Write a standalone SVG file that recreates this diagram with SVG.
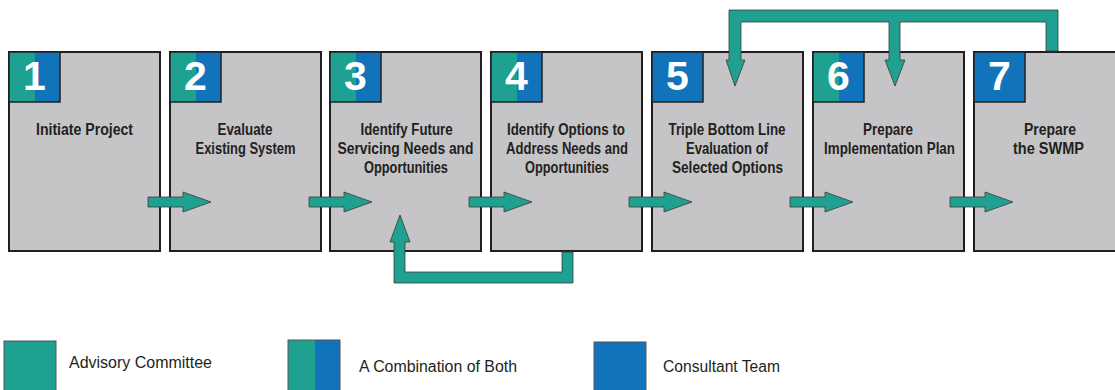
<svg xmlns="http://www.w3.org/2000/svg" width="1115" height="390" viewBox="0 0 1115 390">
  <style>
    .box { fill: #c5c4c7; stroke: #231f20; stroke-width: 2; }
    .teal { fill: #1ea190; }
    .blue { fill: #1173ba; }
    .badge-edge { fill: none; stroke: #231f20; stroke-width: 1.5; }
    .num { font-family: "Liberation Sans", Arial, sans-serif; font-weight: bold; font-size: 41px; fill: #ffffff; text-anchor: middle; }
    .label { font-family: "Liberation Sans", Arial, sans-serif; font-weight: bold; font-size: 16px; fill: #231f20; text-anchor: middle; }
    .arrow { fill: #1ea190; stroke: #3a3a3a; stroke-width: 0.8; stroke-linejoin: miter; }
    .legend-sq { stroke: #555555; stroke-width: 1; }
    .legend-txt { font-family: "Liberation Sans", Arial, sans-serif; font-size: 16px; fill: #231f20; }
  </style>

  <!-- Step 1 -->
  <g id="step1">
    <rect class="box" x="9" y="52" width="151" height="199"/>
    <rect class="teal" x="9" y="52" width="26" height="50"/>
    <rect class="blue" x="35" y="52" width="25" height="50"/>
    <rect class="badge-edge" x="9" y="52" width="51" height="50"/>
    <text class="num" x="34.5" y="90">1</text>
    <text class="label" x="84.5" y="135" textLength="97" lengthAdjust="spacingAndGlyphs">Initiate Project</text>
  </g>

  <!-- Step 2 -->
  <g id="step2">
    <rect class="box" x="170" y="52" width="151" height="199"/>
    <rect class="teal" x="170" y="52" width="26" height="50"/>
    <rect class="blue" x="196" y="52" width="25" height="50"/>
    <rect class="badge-edge" x="170" y="52" width="51" height="50"/>
    <text class="num" x="195.5" y="90">2</text>
    <text class="label" x="245" y="135" textLength="55" lengthAdjust="spacingAndGlyphs">Evaluate</text>
    <text class="label" x="245.5" y="154" textLength="100" lengthAdjust="spacingAndGlyphs">Existing System</text>
  </g>

  <!-- Step 3 -->
  <g id="step3">
    <rect class="box" x="330" y="52" width="151" height="199"/>
    <rect class="teal" x="330" y="52" width="26" height="50"/>
    <rect class="blue" x="356" y="52" width="25" height="50"/>
    <rect class="badge-edge" x="330" y="52" width="51" height="50"/>
    <text class="num" x="355.5" y="90">3</text>
    <text class="label" x="406.5" y="135" textLength="92" lengthAdjust="spacingAndGlyphs">Identify Future</text>
    <text class="label" x="405.5" y="154" textLength="136" lengthAdjust="spacingAndGlyphs">Servicing Needs and</text>
    <text class="label" x="406" y="173" textLength="84" lengthAdjust="spacingAndGlyphs">Opportunities</text>
  </g>

  <!-- Step 4 -->
  <g id="step4">
    <rect class="box" x="491" y="52" width="151" height="199"/>
    <rect class="teal" x="491" y="52" width="26" height="50"/>
    <rect class="blue" x="517" y="52" width="25" height="50"/>
    <rect class="badge-edge" x="491" y="52" width="51" height="50"/>
    <text class="num" x="516.5" y="90">4</text>
    <text class="label" x="566" y="135" textLength="118" lengthAdjust="spacingAndGlyphs">Identify Options to</text>
    <text class="label" x="567" y="154" textLength="122" lengthAdjust="spacingAndGlyphs">Address Needs and</text>
    <text class="label" x="567" y="173" textLength="84" lengthAdjust="spacingAndGlyphs">Opportunities</text>
  </g>

  <!-- Step 5 -->
  <g id="step5">
    <rect class="box" x="652" y="52" width="151" height="199"/>
    <rect class="blue" x="652" y="52" width="51" height="50"/>
    <rect class="badge-edge" x="652" y="52" width="51" height="50"/>
    <text class="num" x="677.5" y="90">5</text>
    <text class="label" x="727" y="135" textLength="117" lengthAdjust="spacingAndGlyphs">Triple Bottom Line</text>
    <text class="label" x="727" y="154" textLength="82" lengthAdjust="spacingAndGlyphs">Evaluation of</text>
    <text class="label" x="727.5" y="173" textLength="111" lengthAdjust="spacingAndGlyphs">Selected Options</text>
  </g>

  <!-- Step 6 -->
  <g id="step6">
    <rect class="box" x="813" y="52" width="151" height="199"/>
    <rect class="teal" x="813" y="52" width="26" height="50"/>
    <rect class="blue" x="839" y="52" width="25" height="50"/>
    <rect class="badge-edge" x="813" y="52" width="51" height="50"/>
    <text class="num" x="838.5" y="90">6</text>
    <text class="label" x="888" y="135" textLength="50" lengthAdjust="spacingAndGlyphs">Prepare</text>
    <text class="label" x="889.5" y="154" textLength="131" lengthAdjust="spacingAndGlyphs">Implementation Plan</text>
  </g>

  <!-- Step 7 -->
  <g id="step7">
    <rect class="box" x="974" y="52" width="151" height="199"/>
    <rect class="blue" x="974" y="52" width="51" height="50"/>
    <rect class="badge-edge" x="974" y="52" width="51" height="50"/>
    <text class="num" x="999.5" y="90">7</text>
    <text class="label" x="1050" y="135" textLength="52" lengthAdjust="spacingAndGlyphs">Prepare</text>
    <text class="label" x="1048.5" y="154" textLength="71" lengthAdjust="spacingAndGlyphs">the SWMP</text>
  </g>

  <!-- Connectors -->
  <g id="connectors">
    <!-- forward arrows between consecutive steps -->
    <polygon class="arrow" points="148,197 183,197 183,192 211,202 183,212 183,207 148,207"/>
    <polygon class="arrow" points="309,197 344,197 344,192 372,202 344,212 344,207 309,207"/>
    <polygon class="arrow" points="469,197 504,197 504,192 532,202 504,212 504,207 469,207"/>
    <polygon class="arrow" points="629,197 664,197 664,192 692,202 664,212 664,207 629,207"/>
    <polygon class="arrow" points="790,197 825,197 825,192 853,202 825,212 825,207 790,207"/>
    <polygon class="arrow" points="950,197 985,197 985,192 1013,202 985,212 985,207 950,207"/>

    <!-- loop back from step 4 to step 3 -->
    <polygon class="arrow" points="562,252 573,252 573,283 394,283 394,242 390,242 400,215 410,242 405,242 405,272 562,272"/>

    <!-- loop back from step 7 to steps 5 and 6 -->
    <polygon class="arrow" points="1046,51 1046,22 900,22 900,60 905,60 895,86 885,60 889,60 889,22 741,22 741,60 745,60 735,86 726,60 729,60 729,10 1058,10 1058,51"/>
  </g>

  <!-- Legend -->
  <g id="legend-advisory">
    <rect class="legend-sq teal" x="4" y="341" width="52" height="52"/>
    <text class="legend-txt" x="69" y="368" textLength="143" lengthAdjust="spacingAndGlyphs">Advisory Committee</text>
  </g>
  <g id="legend-both">
    <rect class="teal" x="288" y="340" width="27" height="52"/>
    <rect class="blue" x="315" y="340" width="25" height="52"/>
    <rect class="legend-sq" fill="none" x="288" y="340" width="52" height="52"/>
    <text class="legend-txt" x="359" y="372" textLength="158" lengthAdjust="spacingAndGlyphs">A Combination of Both</text>
  </g>
  <g id="legend-consultant">
    <rect class="legend-sq blue" x="594" y="342" width="52" height="52"/>
    <text class="legend-txt" x="663" y="372" textLength="117" lengthAdjust="spacingAndGlyphs">Consultant Team</text>
  </g>
</svg>
